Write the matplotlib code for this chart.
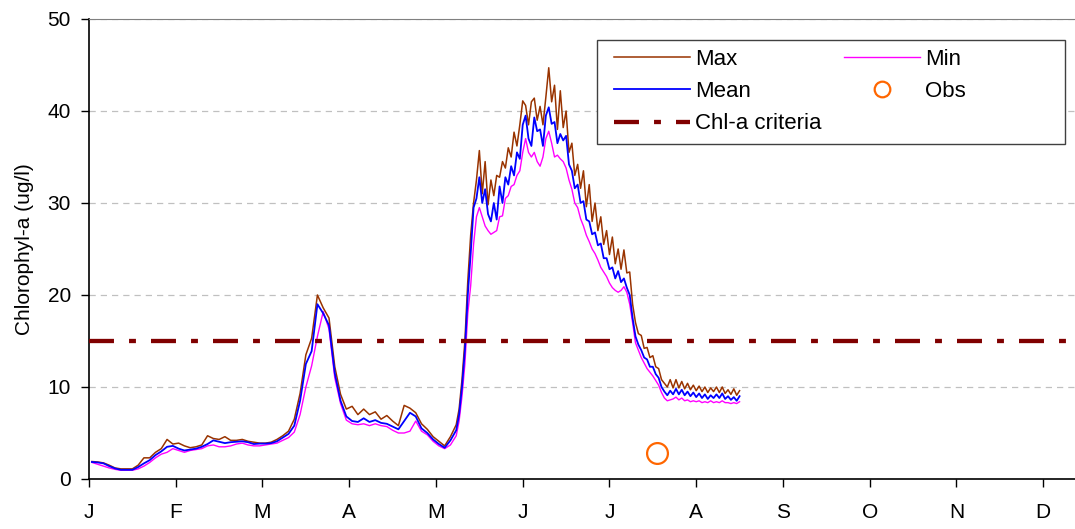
import matplotlib
matplotlib.use('Agg')
import matplotlib.pyplot as plt
from matplotlib.patches import Rectangle

plt.rcParams['font.family'] = ['Liberation Sans', 'DejaVu Sans']

# day of year sampling: every 2 days early on, daily through the bloom
days_early = list(range(1, 128, 2))
days_late = list(range(128, 226))

mean_early = [1.85, 1.8, 1.7, 1.4, 1.15, 1.0, 1.0, 1.0, 1.3, 1.7,
              2.05, 2.6, 3.0, 3.5, 3.6, 3.3, 3.1, 3.2, 3.3, 3.5,
              3.8, 4.2, 4.05, 3.9, 4.0, 4.05, 4.1, 4.0, 3.8, 3.85,
              3.85, 3.9, 4.1, 4.5, 4.9, 5.8, 8.5, 12.5, 13.9, 19.0,
              18.0, 16.7, 11.5, 8.5, 6.8, 6.3, 6.2, 6.6, 6.2, 6.4,
              6.1, 6.0, 5.7, 5.4, 6.3, 7.2, 6.8, 5.5, 5.0, 4.3,
              3.8, 3.4, 4.2, 5.3]
max_early = [1.9, 1.85, 1.75, 1.5, 1.2, 1.1, 1.1, 1.1, 1.5, 2.3,
             2.3, 2.9, 3.3, 4.3, 3.8, 3.9, 3.6, 3.4, 3.5, 3.7,
             4.7, 4.4, 4.3, 4.6, 4.2, 4.2, 4.3, 4.1, 4.0, 3.9,
             3.9, 4.0, 4.3, 4.7, 5.2, 6.5, 9.3, 13.5, 15.3, 20.0,
             18.6, 17.5, 12.2, 9.2, 7.6, 7.9, 7.0, 7.6, 7.0, 7.3,
             6.5, 6.9, 6.3, 5.8, 8.0, 7.7, 7.2, 6.0, 5.4, 4.6,
             4.1, 3.6, 4.6, 5.9]
min_early = [1.8, 1.6, 1.4, 1.2, 1.05, 0.95, 0.95, 0.95, 1.1, 1.4,
             1.8, 2.3, 2.7, 2.9, 3.3, 3.1, 2.9, 3.1, 3.2, 3.3,
             3.6, 3.7, 3.5, 3.5, 3.6, 3.8, 3.9, 3.7, 3.6, 3.6,
             3.7, 3.8, 3.9, 4.2, 4.5, 5.1, 7.0, 10.0, 12.3, 15.5,
             18.2, 16.3, 11.0, 8.2, 6.4, 6.0, 5.9, 6.0, 5.8, 6.0,
             5.8, 5.7, 5.3, 5.0, 5.0, 5.2, 6.3, 5.2, 4.8, 4.1,
             3.6, 3.3, 3.7, 4.7]

mean_late = [7.0, 10.0, 14.0, 20.0, 24.5, 29.5, 30.5, 32.8, 30.0, 31.5,
             28.8, 28.0, 30.0, 28.2, 31.8, 30.0, 32.8, 32.0, 34.0, 33.0,
             35.5, 34.8, 38.5, 39.5, 37.0, 36.2, 39.3, 37.8, 38.0, 36.2,
             39.5, 40.4, 38.6, 38.8, 36.5, 37.5, 36.8, 37.3, 34.2, 33.5,
             31.6, 32.0, 30.0, 30.2, 28.2, 28.0, 26.6, 26.8, 25.4, 25.6,
             24.0, 24.0, 22.8, 23.0, 21.8, 22.6, 21.4, 21.8, 20.8, 20.0,
             17.5, 15.5, 14.6, 14.0, 13.2, 13.0, 12.2, 12.2, 11.4, 11.0,
             10.0, 9.5, 9.1, 9.6, 9.2, 9.8, 9.2, 9.7, 9.1, 9.5,
             9.0, 9.4, 8.9, 9.3, 8.8, 9.2, 8.7, 9.1, 8.8, 9.2,
             8.8, 9.3, 8.7, 9.0, 8.6, 8.9, 8.5, 9.0]
max_late = [7.6, 10.8, 15.0, 21.5, 26.5, 30.0, 32.5, 35.7, 31.0, 34.5,
            29.8, 32.5, 30.8, 33.0, 32.8, 34.5, 33.8, 36.0, 35.0, 37.7,
            36.2, 38.5, 41.1, 40.6, 38.5, 41.0, 41.4, 39.0, 40.5, 38.5,
            41.5, 44.7, 41.0, 42.8, 38.0, 42.2, 38.2, 40.0, 35.5, 36.5,
            33.0, 34.2, 31.6, 33.5, 29.6, 32.0, 28.0, 30.0, 27.0, 28.5,
            25.5, 27.0, 24.4, 26.3, 23.4, 25.0, 22.8, 24.9, 22.4, 22.5,
            19.0, 17.0, 15.8, 15.6, 14.2, 14.3, 13.2, 13.4, 12.2, 12.0,
            10.8, 10.4, 10.0, 10.8, 9.9, 10.8, 9.9, 10.6, 9.8, 10.4,
            9.7, 10.2, 9.6, 10.1, 9.5, 10.0, 9.4, 9.9, 9.5, 10.0,
            9.4, 10.0, 9.3, 9.7, 9.2, 9.8, 9.1, 9.6]
min_late = [6.3, 9.0, 12.5, 18.0, 21.0, 25.5, 28.5, 29.5, 28.5, 27.5,
            27.0, 26.6, 26.8, 27.0, 28.5, 28.6, 30.5, 30.8, 31.8, 32.0,
            33.0, 33.5, 35.5, 37.0, 35.5, 35.0, 35.5, 34.5, 34.0, 35.0,
            37.0, 37.8, 36.5, 35.0, 35.2, 34.8, 34.5, 33.8, 32.5, 31.5,
            30.0, 29.5, 28.3, 27.5, 26.5, 25.8, 25.0, 24.5, 23.8, 23.0,
            22.5, 22.0, 21.3, 20.8, 20.5, 20.3, 20.5, 20.9, 20.3, 19.0,
            17.0, 14.8, 14.0, 13.2, 12.6, 12.0, 11.6, 11.2, 10.7, 10.2,
            9.4, 8.8, 8.5, 8.6, 8.7, 8.9, 8.6, 8.8, 8.5, 8.6,
            8.4, 8.5, 8.4, 8.5, 8.3, 8.4, 8.3, 8.5, 8.3, 8.4,
            8.3, 8.5, 8.3, 8.3, 8.2, 8.3, 8.2, 8.4]

obs_days = [196.5]
obs_vals = [2.8]

crit_days = [0, 341]
crit_vals = [15, 15]

month_ticks = [0, 30, 60, 90, 120, 150, 180, 210, 240, 270, 300, 330]
month_labels = ['J', 'F', 'M', 'A', 'M', 'J', 'J', 'A', 'S', 'O', 'N', 'D']

days = days_early + days_late
max_vals = max_early + max_late
min_vals = min_early + min_late
mean_vals = mean_early + mean_late

fig = plt.figure(figsize=(10.75, 5.29), dpi=100)
ax = fig.add_axes([89 / 1075, 1 - 479 / 529, 1 - 89 / 1075, 460 / 529])

ax.plot(days, max_vals, color='#993300', lw=1.1, label='Max', zorder=3)
ax.plot(days, min_vals, color='#ff00ff', lw=1.0, label='Min', zorder=3)
ax.plot(days, mean_vals, color='#0000ff', lw=1.3, label='Mean', zorder=4)
ax.plot(obs_days, obs_vals, linestyle='none', marker='o', markersize=15,
        markerfacecolor='none', markeredgecolor='#ff6600', markeredgewidth=1.6,
        label='Obs', zorder=5)
crit, = ax.plot(crit_days, crit_vals, color='#800000', lw=3.1,
                label='Chl-a criteria', zorder=5)
crit.set_dashes([5.8, 3.5, 1.6, 3.5])

ax.set_xlim(0, 341)
ax.set_ylim(0, 50)
ax.set_xticks(month_ticks)
ax.set_xticklabels(month_labels)
ax.set_yticks([0, 10, 20, 30, 40, 50])
ax.yaxis.grid(True, color='#c0c0c0', linestyle=(0, (5, 4)), lw=0.9)
ax.tick_params(axis='both', labelsize=15, direction='out', length=6, width=1,
               colors='black')
ax.tick_params(axis='x', pad=11)
ax.tick_params(axis='y', pad=7)
ax.spines['right'].set_visible(False)
ax.spines['top'].set_color('#808080')
ax.spines['left'].set_linewidth(1.2)
ax.spines['bottom'].set_linewidth(1.2)
ax.set_ylabel('Chlorophyl-a (ug/l)', fontsize=15, labelpad=10)

# legend box drawn as a plain rectangle so its size matches the original
fig.patches.append(Rectangle((597 / 1075, 1 - 144 / 529), 468 / 1075, 104 / 529,
                             transform=fig.transFigure, facecolor='white',
                             edgecolor='#404040', lw=1.0, zorder=10))
h, l = ax.get_legend_handles_labels()
order = [0, 2, 4, 1, 3]
leg = fig.legend([h[i] for i in order], [l[i] for i in order], ncol=2,
                 loc='upper left', bbox_to_anchor=(603 / 1075, 1 - 38 / 529),
                 frameon=False, fontsize=16, borderpad=0, handlelength=3.4,
                 handletextpad=0.25, columnspacing=1.0, labelspacing=0.5,
                 markerscale=0.75)
leg.set_zorder(11)

fig.savefig('out.png', dpi=100)
